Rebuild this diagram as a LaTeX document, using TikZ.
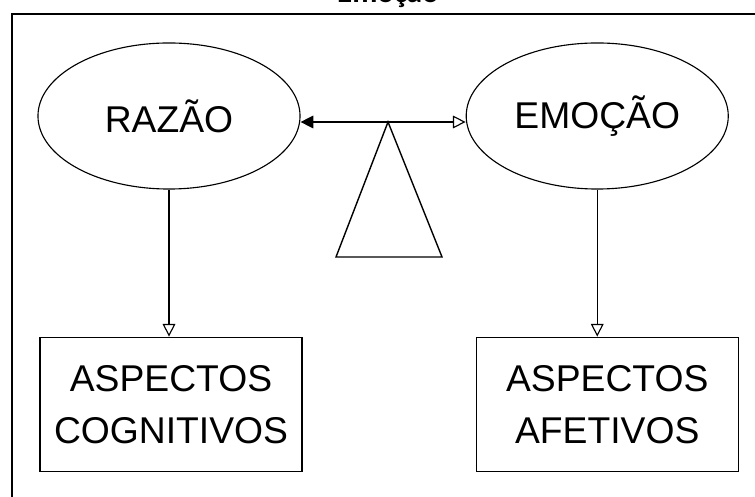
\documentclass[tikz,border=0pt]{standalone}
\usepackage{fontspec}
\setmainfont{Liberation Sans}
\newfontfamily\titlefont{Carlito}
\usetikzlibrary{arrows.meta,positioning,shapes.geometric}

\begin{document}
\begin{tikzpicture}[
    x=0.025cm, y=-0.025cm,
    node distance=2cm,
    >={Triangle[open,length=9pt,width=9pt]},
    font=\fontsize{26.5}{37}\selectfont,
    idea/.style={
		ellipse,
		draw=black,
		line width=0.8pt,
		inner sep=0pt,
		minimum width=6.55cm,
		minimum height=3.65cm
	},
	aspect/.style={
		rectangle,
		draw=black,
		line width=0.8pt,
		align=center,
		text centered,
		minimum width=6.55cm,
		minimum height=3.35cm
	},
	frame/.style={
		line width=1.2pt
	}
  ]
    \useasboundingbox (0,0) rectangle (755,497);

    % title cut off at the top of the page
    \node [anchor=base, font=\titlefont\bfseries\fontsize{22}{26}\selectfont] (title) at (388,3) {Emoção};

    % frame round the picture
    \coordinate (corner) at (12,14);
    \draw [frame] (12,497) -- (corner) -- (755,14);

    % the two ideas
    \node [idea] (razao) at (169,116) {RAZÃO};
    \node [idea, right=4.125cm of razao] (emocao) {EMOÇÃO};

    % the boxes below them
    \node [aspect, below=3.675cm of razao.south, anchor=north, xshift=0.05cm] (cognitivos)
 {ASPECTOS\\COGNITIVOS};
    \node [aspect, below=3.675cm of emocao.south, anchor=north, xshift=0.25cm] (afetivos)
 {ASPECTOS\\AFETIVOS};

    % the balance
    \coordinate (apex) at (388,122);
    \coordinate (baseL) at (336,257);
    \coordinate (baseR) at (442,257);
    \draw [line width=1pt] (apex) -- (baseL) -- (baseR) -- cycle;

    \draw [-{Triangle[length=9pt,width=9pt]}, line width=0.8pt] (apex) -- (apex -| razao.east);
    \draw [->, line width=0.8pt] (apex) -- (apex -| emocao.west);

    \draw [->, line width=0.8pt] (razao.south) -- (razao.south |- cognitivos.north);
    \draw [->, line width=0.8pt] (emocao.south) -- (emocao.south |- afetivos.north);

\end{tikzpicture}
\end{document}
